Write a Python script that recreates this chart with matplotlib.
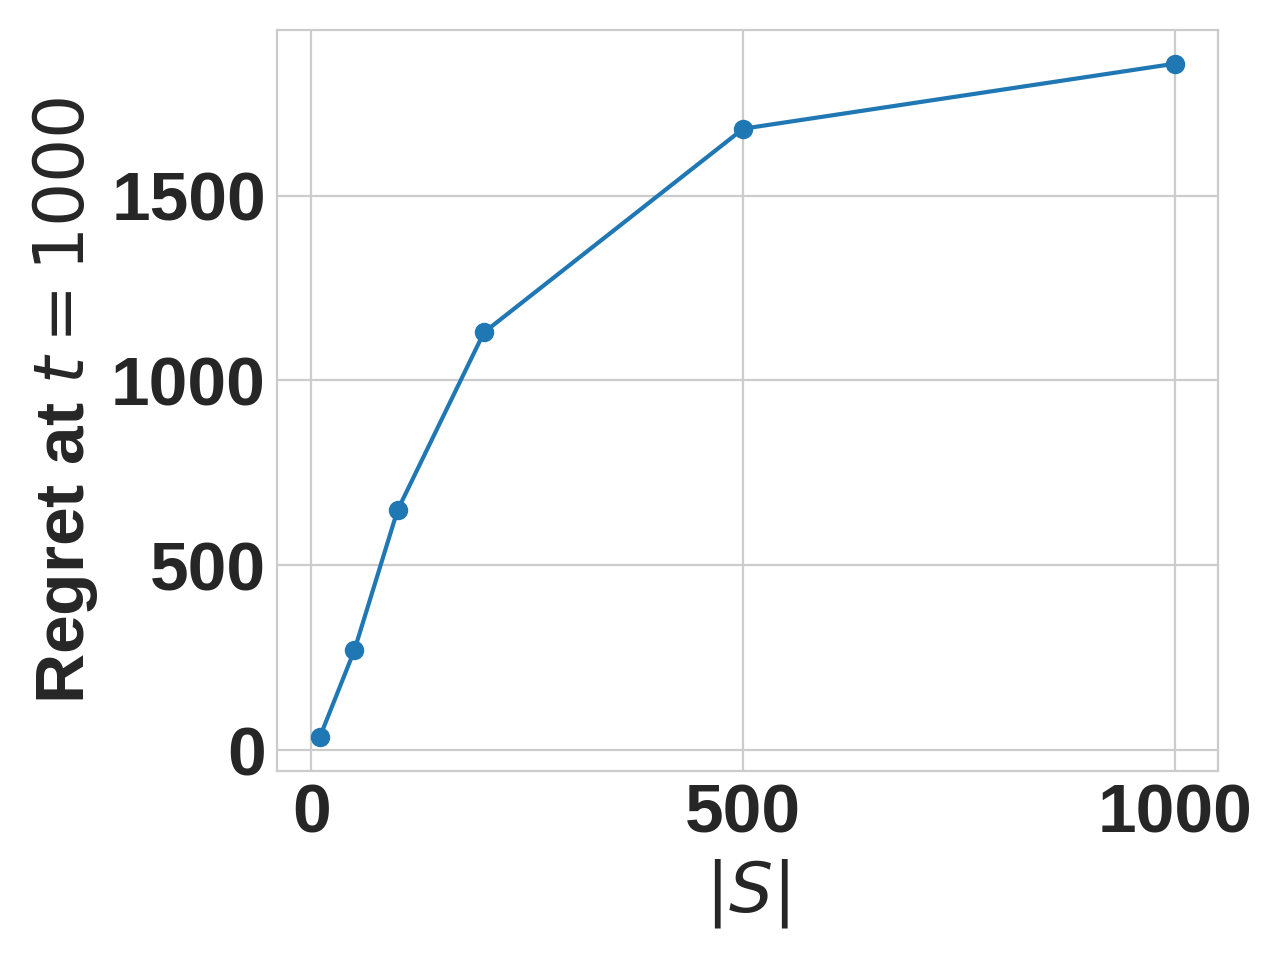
import matplotlib
matplotlib.use("Agg")
import matplotlib.pyplot as plt
import seaborn as sns

sizes = [10, 50, 100, 200, 500, 1000]
regret = [35, 270, 649, 1130, 1681, 1857]
xticks = [0, 500, 1000]
yticks = [0, 500, 1000, 1500]

sns.set_style("whitegrid")
plt.rcParams['font.family'] = ['Liberation Sans', 'DejaVu Sans']
plt.rcParams['mathtext.fontset'] = 'dejavusans'

fig, ax = plt.subplots(figsize=(6.4, 4.8), dpi=200)
ax.plot(sizes, regret, marker='o', color='#1f77b4', markersize=6, linewidth=1.5)
ax.set_xticks(xticks)
ax.set_yticks(yticks)
ax.tick_params(labelsize=25, pad=0.5)
for lab in ax.get_xticklabels() + ax.get_yticklabels():
    lab.set_fontweight('bold')
ax.set_xlabel(r'$|S|$', fontsize=25)
ax.set_ylabel(r'Regret at $t = 1000$', fontsize=25, fontweight='bold')
fig.subplots_adjust(left=0.2164, right=0.9516, top=0.9688, bottom=0.1969)
fig.savefig('out.png', dpi=200)
